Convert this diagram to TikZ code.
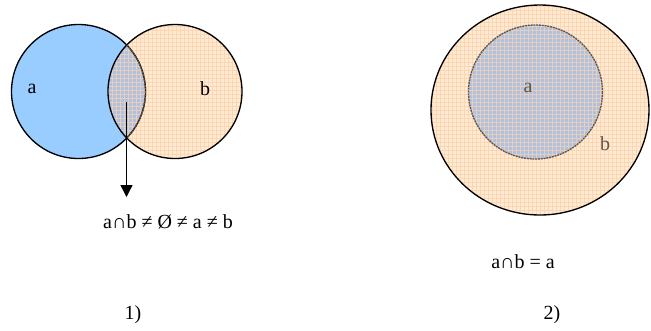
\documentclass[tikz,border=0pt]{standalone}
\usepackage{fontspec}
\setmainfont{Liberation Serif}
\usetikzlibrary{patterns.meta,arrows.meta}

\definecolor{setblue}{RGB}{153,204,255}
\definecolor{setpeach}{RGB}{255,234,212}
\definecolor{setgrid}{RGB}{252,214,178}
\definecolor{setlens}{RGB}{176,192,222}
\definecolor{setink}{RGB}{95,85,75}

\begin{document}
\begin{tikzpicture}[
    x=0.75pt,
    y=-0.75pt,
    font=\fontsize{15}{17}\selectfont,
    gridfill/.style={pattern={Hatch[angle=0, distance=3pt, line width=0.3pt]}, pattern color=setgrid},
    lensline/.style={draw=setink, dashed, dash pattern=on 1.5pt off 0.6pt},
    setline/.style={line width=1pt},
]
\useasboundingbox (0,0) rectangle (651,330);

% Centres of the sets
\coordinate (A) at (78.5,91.5);
\coordinate (B) at (175,91.5);
\coordinate (Bout) at (540,110);
\coordinate (Ain) at (535.5,92);

% 1) set a
\fill[setblue] (A) circle (67);

% 1) set b
\fill[setpeach] (B) circle (67);
\fill[gridfill] (B) circle (67);

% 1) a cap b
\begin{scope}
\clip (A) circle (67);
\fill[setlens] (B) circle (67);
\fill[gridfill, opacity=0.7] (B) circle (67);
\end{scope}

% Outlines
\draw[setline] (A) circle (67);
\draw[setline] (B) circle (67);
\begin{scope}
\clip (B) circle (67);
\draw[lensline, setline] (A) circle (67);
\end{scope}

% Labels of 1)
\node (la) at (32,89) {a};
\node (lb) at (205,89) {b};

% Arrow out of the lens
\coordinate (cut) at (126.5,102);
\coordinate (tip) at (126.5,197);
\draw[line width=1.1pt, -{Triangle[width=9pt,length=9pt]}] (cut) -- (tip);

\node (ineq) at (168,222) {a∩b ≠ Ø ≠ a ≠ b};
\node (one) at (133,315) {1)};

% 2) set b, the outer one
\fill[setpeach] (Bout) ellipse (109 and 105);
\fill[gridfill] (Bout) ellipse (109 and 105);
\draw[setline] (Bout) ellipse (109 and 105);

% 2) set a inside b
\fill[setlens] (Ain) circle (67);
\fill[gridfill, opacity=0.7] (Ain) circle (67);
\draw[lensline, setline] (Ain) circle (67);

% Labels of 2)
\node[text=setink] (la2) at (528,88) {a};
\node[text=setink] (lb2) at (605,144) {b};

\node (eq) at (523,262) {a∩b = a};
\node (two) at (552,315) {2)};

\end{tikzpicture}
\end{document}
